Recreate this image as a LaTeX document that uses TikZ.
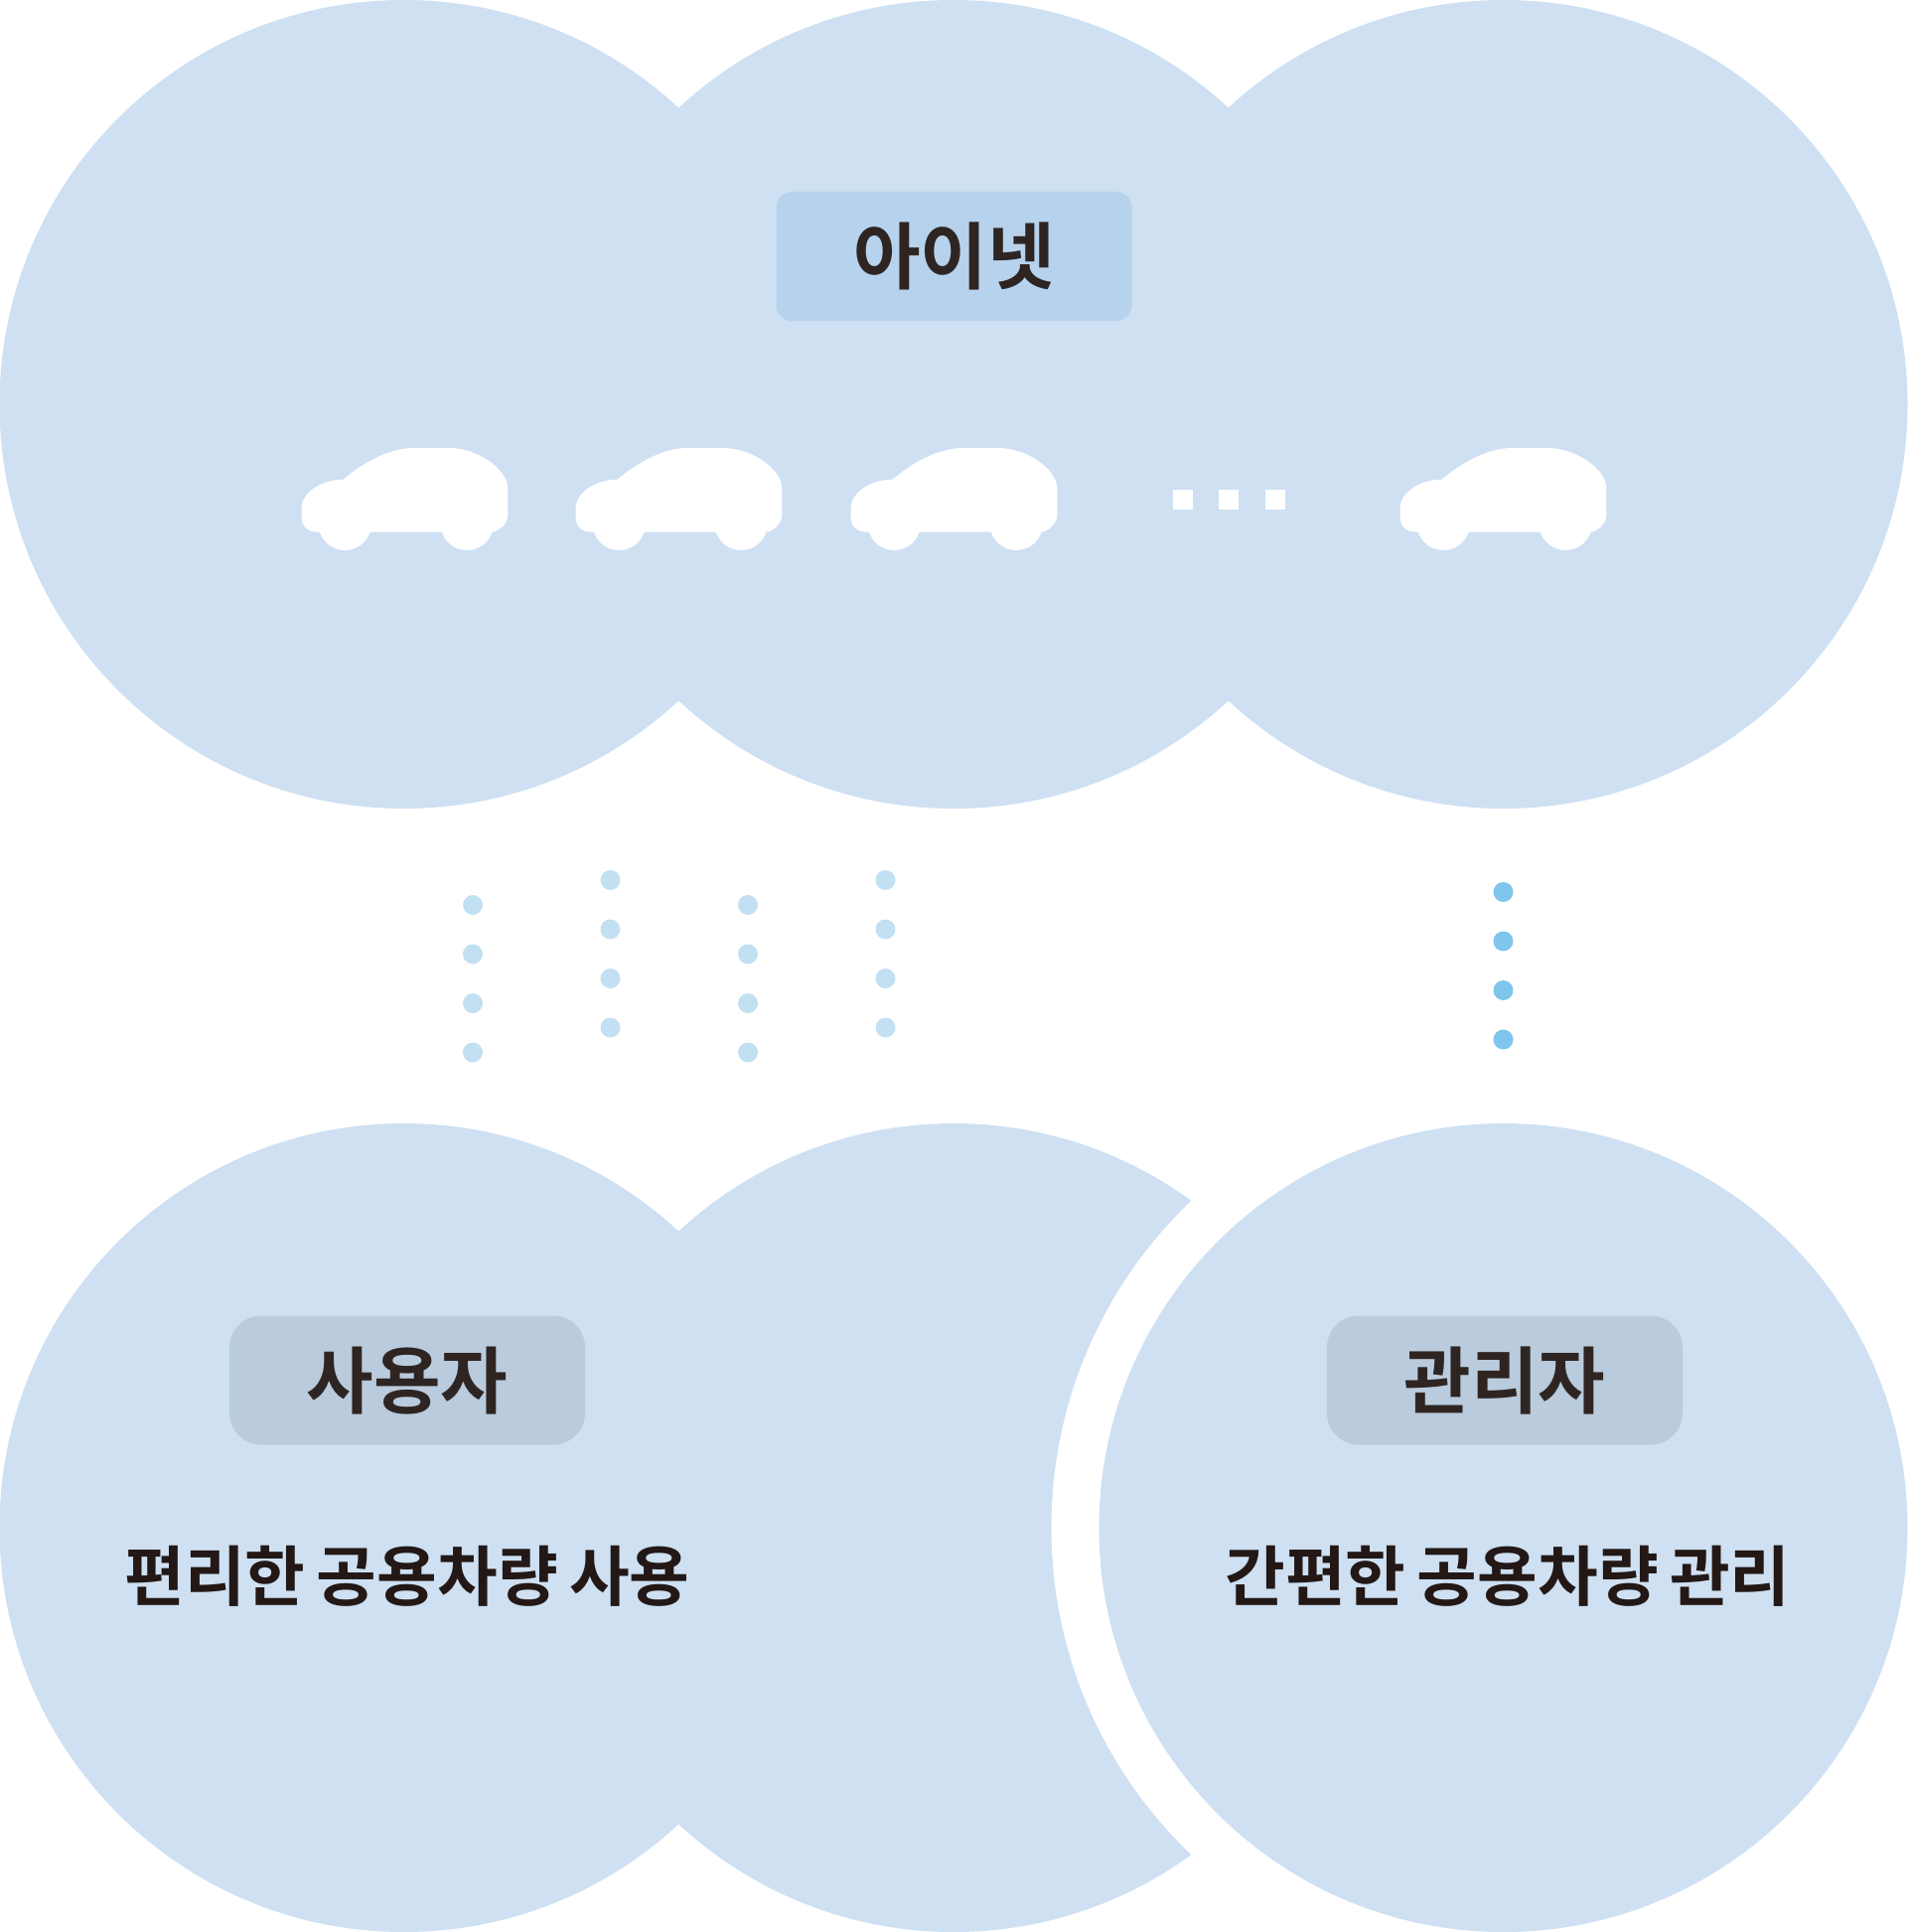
\documentclass[tikz,border=0pt]{standalone}
\usepackage{fontspec}
\usepackage{xcolor}
\newfontfamily\krfont{Noto Sans CJK KR}[BoldFont={Noto Sans CJK KR Bold},WordSpace=0.75]
\definecolor{mybase}{HTML}{CEE0F2}
\definecolor{mytop}{HTML}{B7D2ED}
\definecolor{mypad}{HTML}{B9CBDC}
\definecolor{myink}{HTML}{2E2523}
\definecolor{mytext}{HTML}{231815}
\definecolor{mylight}{HTML}{C3E0F3}
\definecolor{mydark}{HTML}{7FC5EC}
\tikzset{
  padbox/.style={minimum width=358pt,minimum height=130pt,inner sep=0pt,rounded corners=32pt,fill=mypad,
    text=myink,font=\krfont\bfseries\fontsize{73.5}{74}\selectfont},
  bigtext/.style={inner sep=0pt,text=mytext,font=\krfont\bfseries\fontsize{66}{66}\selectfont},
  vehicle/.pic={
    \fill[white] (42.1,31.7) .. controls (64,13) and (90,0) .. (112.9,0) -- (148.6,0)
      .. controls (178,0) and (207.9,22) .. (207.9,40.7) -- (207.9,67.3)
      .. controls (207.9,76) and (200,83) .. (192.1,84.7) -- (17.3,84.7)
      .. controls (6,84.7) and (0,79) .. (0,69) -- (0,61)
      .. controls (0,45) and (20,31.7) .. (42.1,31.7) -- cycle;
    \fill[white] (43.8,76.3) circle (26.7);
    \fill[white] (166.7,76.3) circle (26.7);
  }
}
\begin{document}
\begin{tikzpicture}[x=1pt,y=-1pt]
\useasboundingbox (0,0) rectangle (1920,1945);
% the big discs
\foreach \cx in {406.5,960,1513.5} {
  \fill[mybase] (\cx,407) circle (407);
}
\fill[mybase] (406.5,1538) circle (407);
\fill[mybase] (960,1538) circle (407);
\fill[white] (1513.5,1538) circle (455);
\fill[mybase] (1513.5,1538) circle (407);
% the labels
\node[padbox,fill=mytop,rounded corners=16pt] (ibox) at (960.5,258) {아이넷};
\node[padbox] (userbox) at (410,1389.5) {사용자};
\node[padbox] (adminbox) at (1515,1389.5) {관리자};
\node[bigtext] (usertext) at (410,1587) {편리한 공용차량 사용};
\node[bigtext] (admintext) at (1518,1587) {간편한 공용차량 관리};
% the cars
\foreach \cx in {303.5,579.5,856.5,1409.5} {
  \pic at (\cx,451) {vehicle};
}
\foreach \cx in {1180.5,1227,1273.5} {
  \fill[white] (\cx,493) rectangle ++(20,20);
}
% the dots
\foreach \cx/\cy in {476/911,614.5/886,753/911,891.5/886} {
  \foreach \k in {0,1,2,3} {
    \fill[mylight] (\cx,\cy+\k*49.5) circle (10);
  }
}
\foreach \k in {0,1,2,3} {
  \fill[mydark] (1513.5,898+\k*49.5) circle (10);
}
\end{tikzpicture}
\end{document}
